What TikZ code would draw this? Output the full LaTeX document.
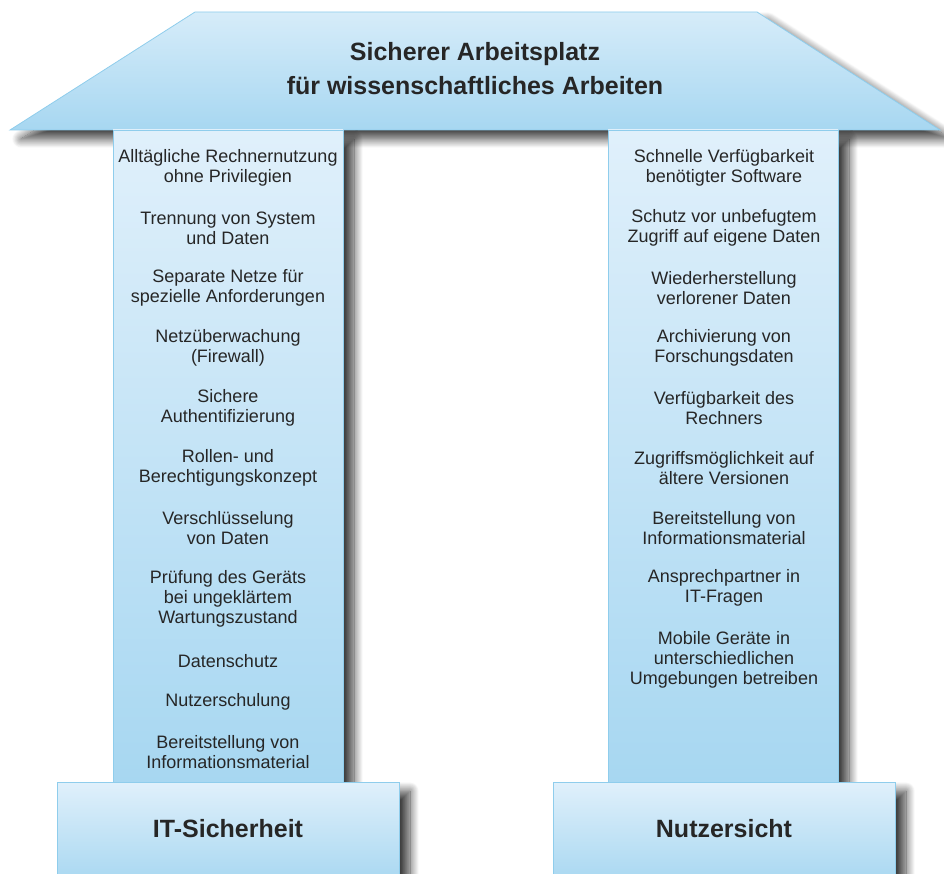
\documentclass[tikz,border=0pt]{standalone}
\usepackage{fontspec}
\setmainfont{Liberation Sans}
\usetikzlibrary{shadows.blur}
\definecolor{txt}{HTML}{262626}
\definecolor{ltop}{HTML}{E0F0FB}
\definecolor{lbot}{HTML}{A7D7F1}
\definecolor{rtop}{HTML}{D6ECF9}
\definecolor{edge}{HTML}{8FCDEC}
\tikzset{
  part/.style={draw=edge, line width=0.8pt, top color=ltop, bottom color=lbot,
    blur shadow={shadow xshift=11pt, shadow yshift=-9pt, shadow blur radius=9pt, shadow blur steps=14, shadow opacity=75}},
  item/.style={align=center, text=txt, font=\fontsize{18}{20}\selectfont, inner sep=0pt},
  head/.style={align=center, text=txt, font=\fontsize{25}{34}\selectfont\bfseries, inner sep=0pt},
}
\begin{document}
\begin{tikzpicture}[x=1pt,y=-1pt]
\useasboundingbox (0,0) rectangle (944,874);
% roof
\path[part, top color=rtop] (195,12) -- (757,12) -- (940,130) -- (10,130) -- cycle;
\node[head] (title) at (475,69) {Sicherer Arbeitsplatz\\für wissenschaftliches Arbeiten};
% columns
\path[part] (113,130) rectangle (343,782);
\path[part] (608,130) rectangle (838,782);
% bases
\path[part] (57,782) rectangle (399,884);
\path[part] (553,782) rectangle (895,884);
\node[head] (itsec) at (228,829) {IT-Sicherheit};
\node[head] (nutz) at (724,829) {Nutzersicht};
% left items
\node[item] (l1) at (228,168) {Alltägliche Rechnernutzung\\ohne Privilegien};
\node[item] (l2) at (228,228) {Trennung von System\\und Daten};
\node[item] (l3) at (228,288) {Separate Netze für\\spezielle Anforderungen};
\node[item] (l4) at (228,348) {Netzüberwachung\\(Firewall)};
\node[item] (l5) at (228,408) {Sichere\\Authentifizierung};
\node[item] (l6) at (228,468) {Rollen- und\\Berechtigungskonzept};
\node[item] (l7) at (228,528) {Verschlüsselung\\von Daten};
\node[item] (l8) at (228,599) {Prüfung des Geräts\\bei ungeklärtem\\Wartungszustand};
\node[item] (l9) at (228,661) {Datenschutz};
\node[item] (l10) at (228,702) {Nutzerschulung};
\node[item] (l11) at (228,752) {Bereitstellung von\\Informationsmaterial};
% right items
\node[item] (r1) at (724,168) {Schnelle Verfügbarkeit\\benötigter Software};
\node[item] (r2) at (724,228) {Schutz vor unbefugtem\\Zugriff auf eigene Daten};
\node[item] (r3) at (724,288) {Wiederherstellung\\verlorener Daten};
\node[item] (r4) at (724,348) {Archivierung von\\Forschungsdaten};
\node[item] (r5) at (724,408) {Verfügbarkeit des\\Rechners};
\node[item] (r6) at (724,468) {Zugriffsmöglichkeit auf\\ältere Versionen};
\node[item] (r7) at (724,528) {Bereitstellung von\\Informationsmaterial};
\node[item] (r8) at (724,588) {Ansprechpartner in\\IT-Fragen};
\node[item] (r9) at (724,660) {Mobile Geräte in\\unterschiedlichen\\Umgebungen betreiben};
\end{tikzpicture}
\end{document}
